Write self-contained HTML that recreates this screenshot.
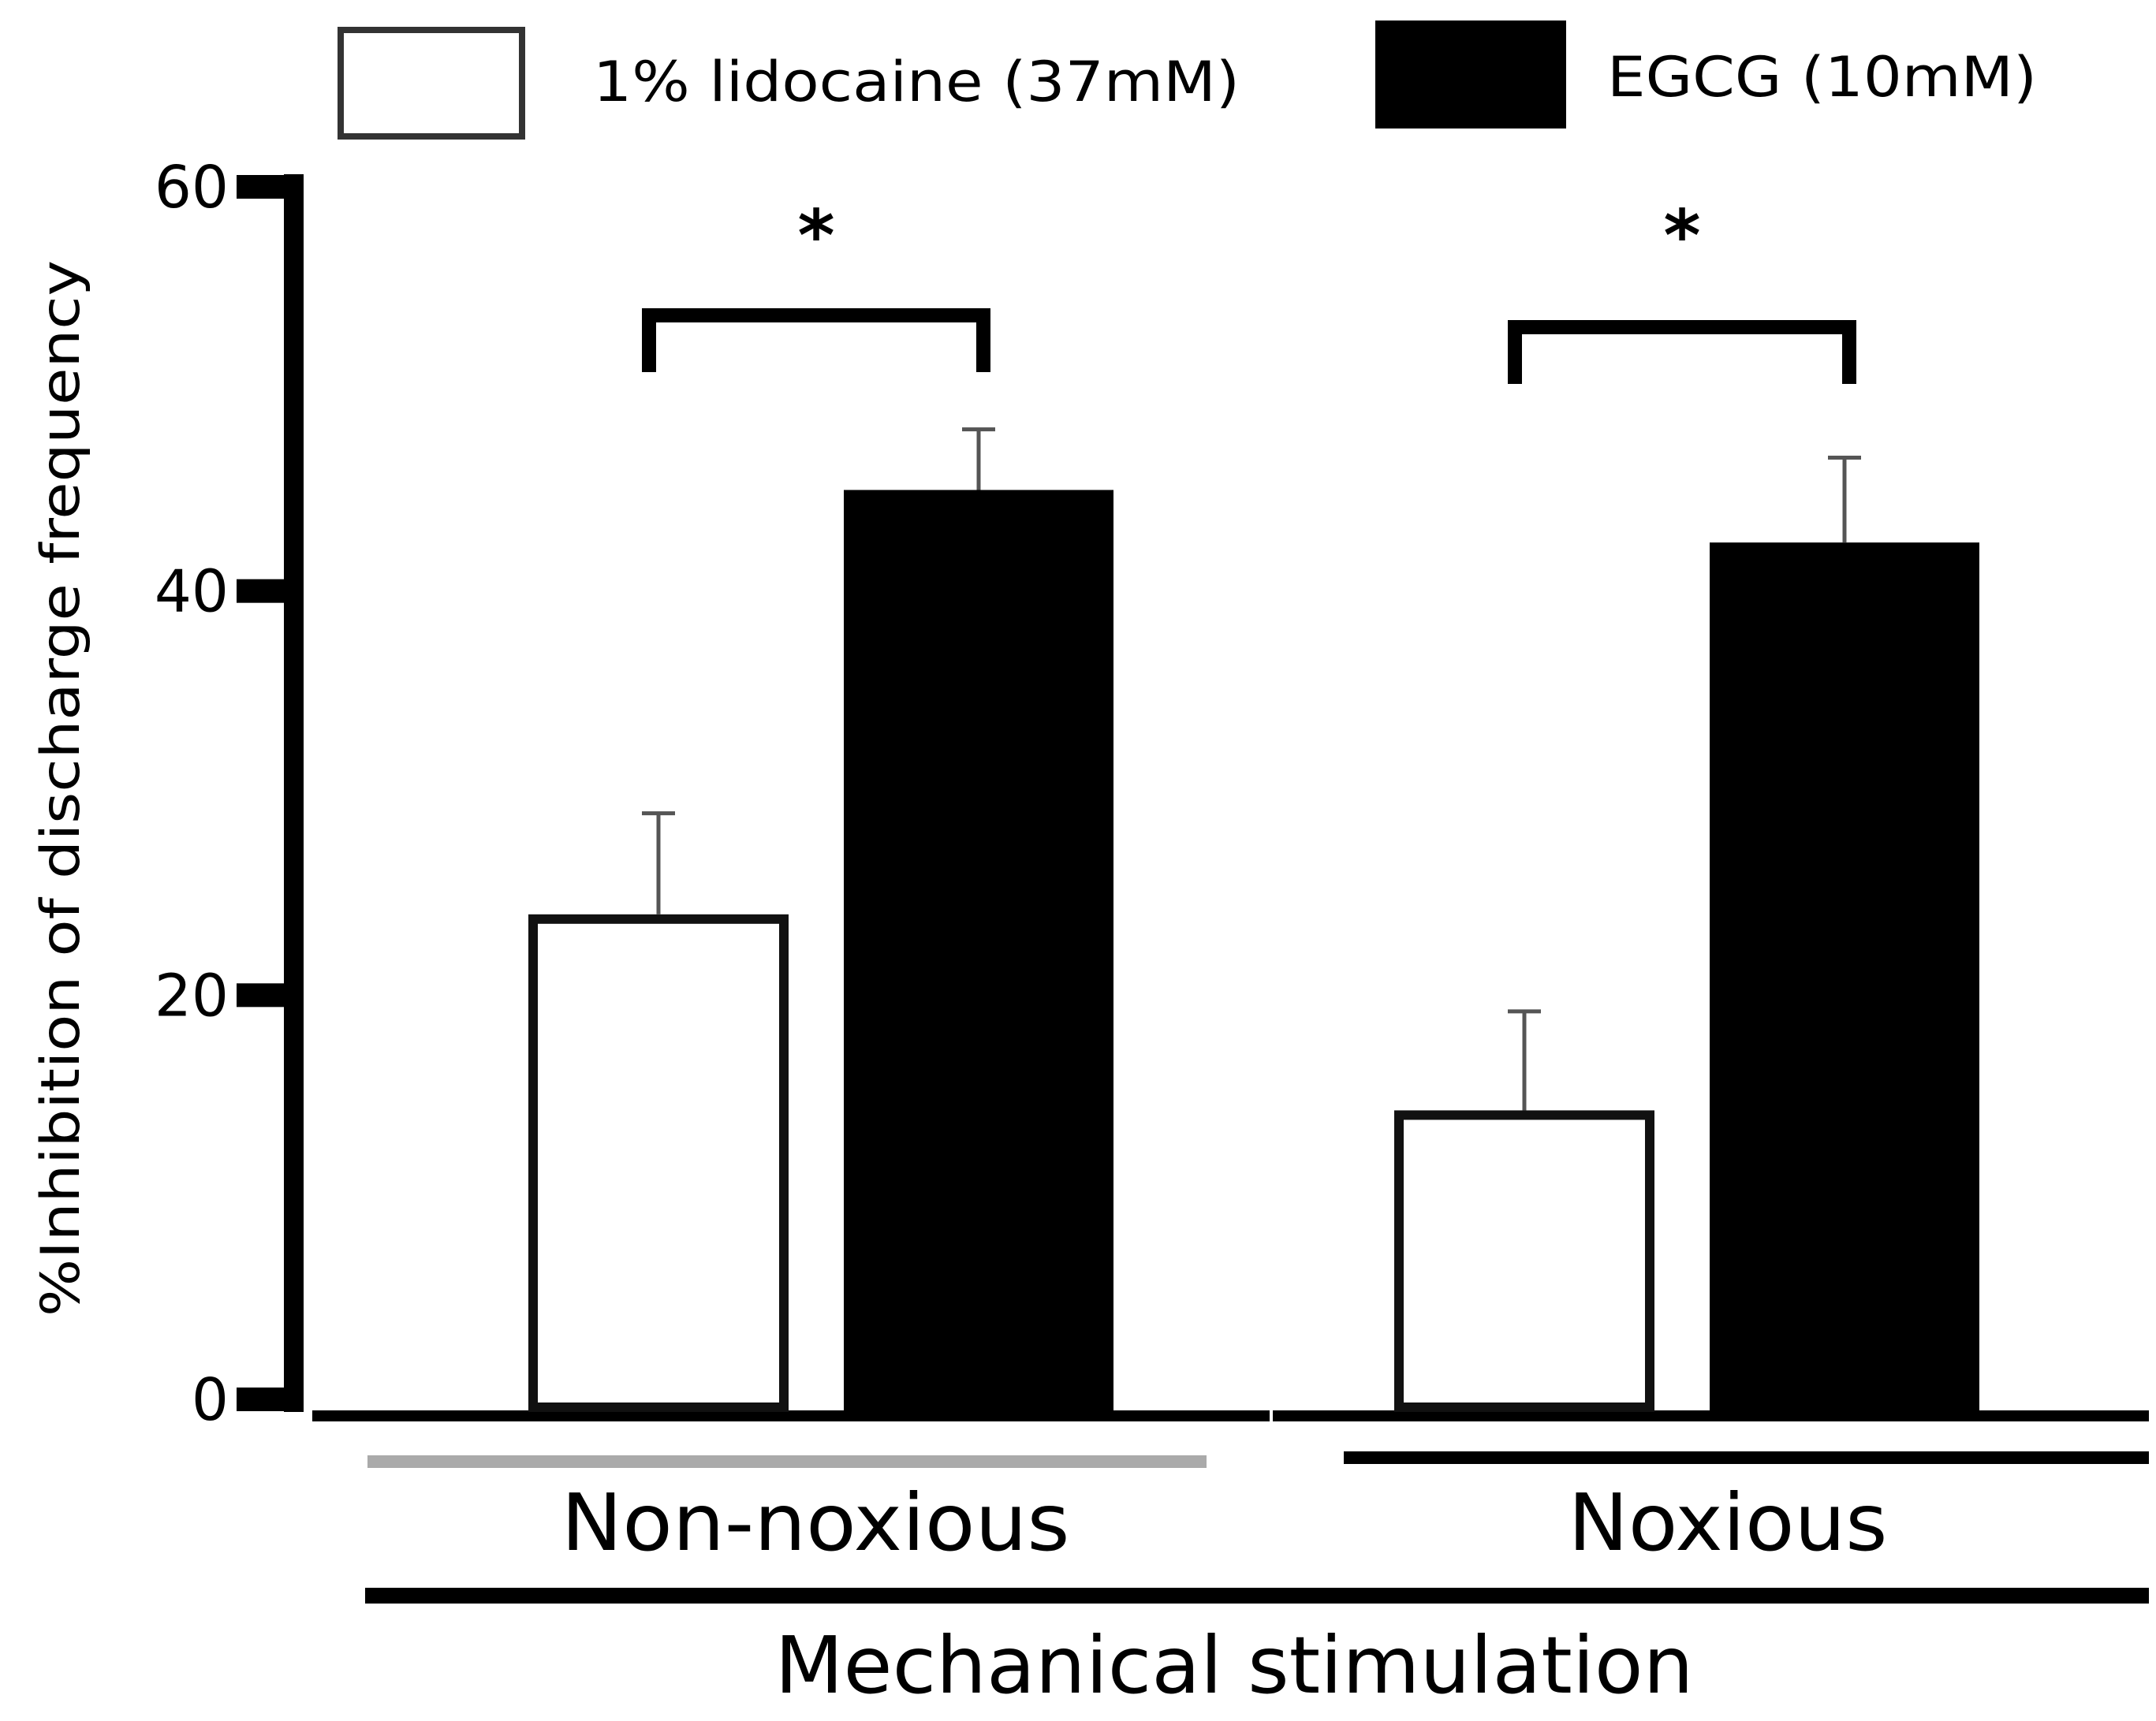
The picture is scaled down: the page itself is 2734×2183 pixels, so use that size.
<!DOCTYPE html>
<html><head><meta charset="utf-8"><style>html,body{margin:0;padding:0;background:#fff}svg{display:block}</style></head>
<body>
<svg id="chart" width="2734" height="2183" viewBox="0 0 2734 2183" xmlns="http://www.w3.org/2000/svg" font-family="'DejaVu Sans','Liberation Sans',sans-serif">
<g>
  <rect x="432" y="38" width="230" height="135" fill="#fff" stroke="#333" stroke-width="8"/>
  <text x="752" y="128" font-size="70" textLength="820" lengthAdjust="spacingAndGlyphs">1% lidocaine (37mM)</text>
  <rect x="1744" y="26" width="242" height="137" fill="#000"/>
  <text x="2038" y="122" font-size="70" textLength="545" lengthAdjust="spacingAndGlyphs">EGCG (10mM)</text>
</g>
<g id="axes"></g>
<g id="bars"></g>
<g id="sig"></g>
<text transform="translate(100,1000) rotate(-90)" text-anchor="middle" font-size="68" textLength="1340" lengthAdjust="spacingAndGlyphs">%Inhibition of discharge frequency</text>
<rect x="466" y="1846" width="1064" height="16" fill="#aaa"/>
<rect x="1704" y="1841" width="1021" height="16" fill="#000"/>
<text x="1034" y="1966" text-anchor="middle" font-size="100" textLength="645" lengthAdjust="spacingAndGlyphs">Non-noxious</text>
<text x="2191" y="1966" text-anchor="middle" font-size="100" textLength="405" lengthAdjust="spacingAndGlyphs">Noxious</text>
<rect x="463" y="2014" width="2262" height="20" fill="#000"/>
<text x="1565" y="2147" text-anchor="middle" font-size="100" textLength="1165" lengthAdjust="spacingAndGlyphs">Mechanical stimulation</text>
</svg>
<script>
const categories = ["Non-noxious", "Noxious"];
const lidocaine = [24.0, 14.3];
const lidocaineErr = [5.0, 4.9];
const egcg = [45.0, 42.4];
const egcgErr = [3.0, 4.2];
const yTicks = [0, 20, 40, 60];
const sigLabels = ["*", "*"];

const NS = "http://www.w3.org/2000/svg";
function yScale(v){ return 1775 - v * (1775 - 237) / 60; }
const groupStart = [670, 1768];
const bracketTop = [400, 415];
const barW = 330, barGap = 70;
function mk(tag, attrs, parent){ const e=document.createElementNS(NS,tag); for(const k in attrs) e.setAttribute(k,attrs[k]); parent.appendChild(e); return e; }

const axes=document.getElementById('axes');
let a=mk('rect',{x:360,y:yScale(60)-16,width:25,height:yScale(0)-yScale(60)+32,fill:'#000'},axes);


yTicks.forEach(t=>{
  const r=mk('rect',{x:300,y:yScale(t)-15,width:80,height:30,fill:'#000'},axes);
  
  
  const tx=mk('text',{x:290,y:yScale(t)+26,'text-anchor':'end','font-size':74},axes);
  tx.textContent=t;
  
  
});
let b1=mk('rect',{x:396,y:1789,width:1214,height:14,fill:'#000'},axes);


let b2=mk('rect',{x:1614,y:1789,width:1111,height:14,fill:'#000'},axes);



const bars=document.getElementById('bars');
function errBar(cx,v,e,name){
  const l=mk('line',{x1:cx,x2:cx,y1:yScale(v),y2:yScale(v+e),stroke:'#555','stroke-width':5},bars);
  
  
  const c=mk('line',{x1:cx-21,x2:cx+21,y1:yScale(v+e),y2:yScale(v+e),stroke:'#555','stroke-width':5},bars);
  
  
}
const egcgCenters=[];
const lidoCenters=[];
categories.forEach((c,i)=>{
  const x0=groupStart[i];
  const w=mk('rect',{x:x0+6,y:yScale(lidocaine[i])+6,width:barW-12,height:yScale(0)-yScale(lidocaine[i])+4,fill:'#fff',stroke:'#111','stroke-width':12},bars);
  
  
  errBar(x0+barW/2,lidocaine[i],lidocaineErr[i],'error-bar-lidocaine-'+c.toLowerCase());
  const x1=x0+barW+barGap;
  const k=mk('rect',{x:x1,y:yScale(egcg[i]),width:barW+12,height:yScale(0)-yScale(egcg[i])+14,fill:'#000'},bars);
  
  
  errBar(x1+barW/2+6,egcg[i],egcgErr[i],'error-bar-egcg-'+c.toLowerCase());
  lidoCenters.push(x0+barW/2); egcgCenters.push(x1+barW/2+6);
});

const sig=document.getElementById('sig');
categories.forEach((c,i)=>{
  const top=bracketTop[i];
  const xl=lidoCenters[i]-12, xr=egcgCenters[i]+6;
  const p=mk('path',{d:`M${xl} ${top+72} V${top} H${xr} V${top+72}`,fill:'none',stroke:'#000','stroke-width':18},sig);
  
  
  const s=mk('text',{x:(xl+xr)/2,y:bracketTop[0]-70,'text-anchor':'middle','font-size':90,'font-weight':'bold'},sig);
  s.textContent=sigLabels[i];
  
  
});
</script>
</body></html>
